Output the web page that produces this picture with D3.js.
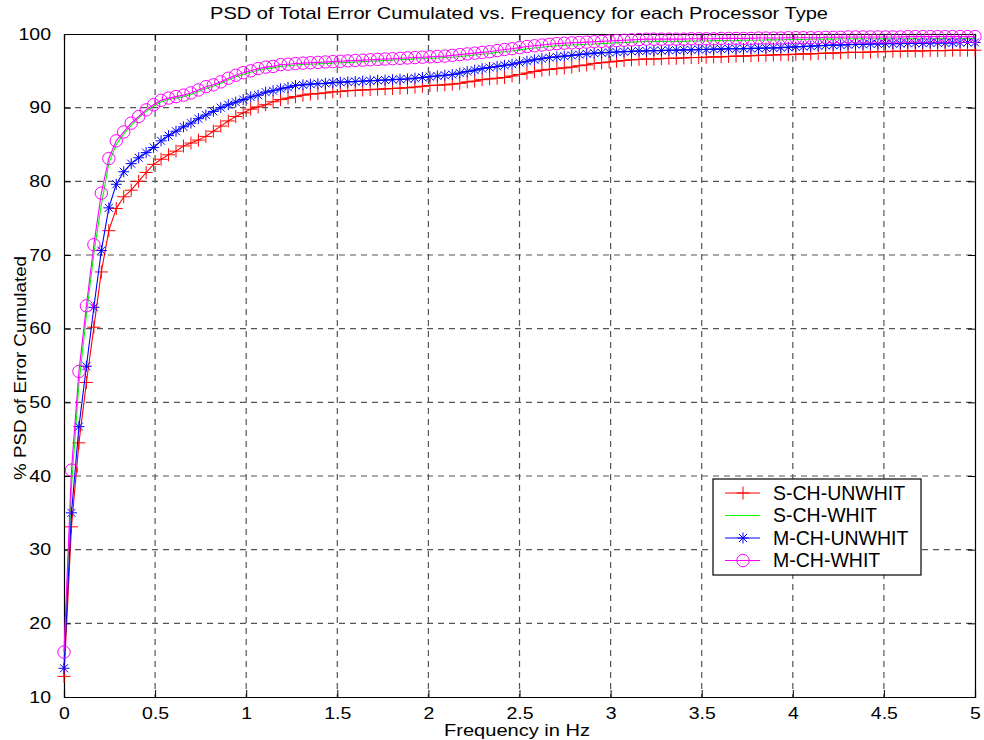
<!DOCTYPE html>
<html>
<head>
<meta charset="utf-8">
<script src="https://cdn.jsdelivr.net/npm/d3@7"></script>
<style>
  body { margin: 0; background: #fff; }
  svg text { font-family: "Liberation Sans", Arial, sans-serif; fill: #000; }
</style>
</head>
<body>
<svg width="984" height="740"></svg>
<script>
// frequency bins: 123 bins from 0 to 5 Hz
const freqCount = 123
const freqMax = 5

// % PSD of error cumulated
const sUnwhit = [12.8,33.1,44.5,52.7,60.2,67.7,73.3,76.3,77.9,78.8,80.0,81.2,82.3,83.0,83.6,84.1,84.8,85.2,85.6,86.1,
  86.8,87.5,88.2,88.8,89.3,89.8,90.1,90.4,90.8,91.1,91.3,91.5,91.7,91.85,91.9,92.0,92.15,92.2,92.3,92.35,
  92.4,92.45,92.5,92.55,92.6,92.65,92.7,92.8,92.9,93.0,93.05,93.1,93.2,93.3,93.5,93.6,93.8,93.9,94.0,94.1,
  94.3,94.5,94.7,94.9,95.1,95.2,95.3,95.4,95.5,95.7,95.8,96.0,96.1,96.2,96.3,96.4,96.5,96.55,96.6,96.6,
  96.65,96.7,96.7,96.75,96.8,96.8,96.85,96.9,96.9,96.95,97.0,97.0,97.05,97.1,97.1,97.15,97.2,97.2,97.25,97.3,
  97.3,97.35,97.4,97.4,97.45,97.5,97.5,97.5,97.55,97.6,97.6,97.65,97.65,97.7,97.7,97.7,97.75,97.75,97.75,97.8,
  97.8,97.8,97.8]

const sWhit = [15.0,38.5,52.5,61.8,70.2,76.8,82.4,85.0,86.4,87.6,88.6,89.5,90.2,90.8,91.1,91.3,91.5,91.8,92.2,92.6,
  92.9,93.3,93.8,94.2,94.5,94.8,95.1,95.3,95.4,95.6,95.7,95.8,95.85,95.9,95.95,96.0,96.05,96.1,96.15,96.2,
  96.25,96.3,96.35,96.4,96.45,96.5,96.55,96.6,96.65,96.7,96.75,96.8,96.85,96.95,97.05,97.15,97.25,97.35,97.5,97.6,
  97.7,97.85,98.0,98.1,98.2,98.3,98.4,98.45,98.5,98.55,98.6,98.65,98.7,98.75,98.8,98.85,98.9,98.95,99.0,99.0,
  99.0,99.0,99.0,99.0,99.05,99.05,99.05,99.1,99.1,99.1,99.1,99.15,99.15,99.15,99.2,99.2,99.2,99.25,99.25,99.25,
  99.3,99.3,99.3,99.3,99.35,99.35,99.35,99.35,99.35,99.35,99.35,99.35,99.35,99.35,99.35,99.35,99.35,99.35,99.35,99.35,
  99.35,99.35,99.35]

const mUnwhit = [13.9,35.0,46.7,54.9,62.9,70.6,76.4,79.6,81.3,82.4,83.2,83.9,84.6,85.5,86.2,86.8,87.4,87.9,88.5,89.0,
  89.5,90.0,90.4,90.75,91.1,91.45,91.7,92.1,92.3,92.55,92.75,93.0,93.1,93.2,93.25,93.3,93.4,93.45,93.5,93.55,
  93.6,93.65,93.7,93.75,93.8,93.85,93.9,94.0,94.1,94.2,94.3,94.4,94.5,94.7,94.9,95.1,95.3,95.45,95.6,95.75,
  95.9,96.1,96.3,96.5,96.65,96.8,96.9,97.0,97.1,97.2,97.3,97.4,97.45,97.5,97.55,97.6,97.65,97.7,97.7,97.75,
  97.75,97.8,97.8,97.85,97.85,97.9,97.9,97.95,97.95,98.0,98.0,98.0,98.05,98.05,98.1,98.1,98.15,98.2,98.25,98.3,
  98.35,98.4,98.45,98.5,98.5,98.55,98.6,98.6,98.65,98.65,98.7,98.7,98.7,98.75,98.75,98.75,98.8,98.8,98.8,98.8,
  98.85,98.85,98.85]

const mWhit = [16.1,40.8,54.2,63.1,71.4,78.4,83.1,85.5,86.7,87.9,88.8,89.7,90.4,91.0,91.3,91.5,91.7,92.0,92.4,92.85,
  93.1,93.5,94.0,94.4,94.75,95.0,95.3,95.5,95.6,95.85,95.9,96.0,96.05,96.1,96.15,96.2,96.25,96.3,96.35,96.4,
  96.45,96.5,96.55,96.6,96.65,96.7,96.75,96.8,96.85,96.9,96.95,97.0,97.1,97.2,97.3,97.4,97.5,97.6,97.75,97.9,
  98.0,98.15,98.3,98.4,98.5,98.6,98.7,98.75,98.8,98.85,98.9,98.95,99.0,99.05,99.1,99.15,99.2,99.25,99.3,99.3,
  99.3,99.3,99.3,99.3,99.35,99.35,99.35,99.35,99.4,99.4,99.4,99.4,99.4,99.45,99.45,99.45,99.45,99.5,99.5,99.5,
  99.5,99.5,99.55,99.55,99.55,99.6,99.6,99.6,99.6,99.6,99.6,99.6,99.6,99.65,99.65,99.65,99.65,99.65,99.65,99.65,
  99.65,99.65,99.65]

const seriesNames = ['S-CH-UNWHIT', 'S-CH-WHIT', 'M-CH-UNWHIT', 'M-CH-WHIT']
const xTicks = [0, 0.5, 1, 1.5, 2, 2.5, 3, 3.5, 4, 4.5, 5]
const yTicks = [10, 20, 30, 40, 50, 60, 70, 80, 90, 100]

const freqs = d3.range(freqCount).map(i => i * freqMax / (freqCount - 1))

const series = [
  { name: seriesNames[0], values: sUnwhit, color: '#ff0000', marker: 'plus' },
  { name: seriesNames[1], values: sWhit, color: '#00ff00', marker: 'none' },
  { name: seriesNames[2], values: mUnwhit, color: '#0000ff', marker: 'star' },
  { name: seriesNames[3], values: mWhit, color: '#ff00ff', marker: 'circle' }
]

const margin = { top: 34, right: 9, bottom: 43, left: 64 }
const width = 984 - margin.left - margin.right
const height = 740 - margin.top - margin.bottom

const svg = d3.select('svg')
const g = svg.append('g').attr('transform', `translate(${margin.left},${margin.top})`)

const x = d3.scaleLinear().domain([0, 5]).range([0, width])
const y = d3.scaleLinear().domain([10, 100]).range([height, 0])

// grid
const gridColor = '#555'
g.append('g').selectAll('line').data(xTicks.slice(1, -1)).join('line')
  .attr('x1', d => x(d)).attr('x2', d => x(d)).attr('y1', 0).attr('y2', height)
  .attr('stroke', gridColor).attr('stroke-width', 1.2).attr('stroke-dasharray', '6,5')
g.append('g').selectAll('line').data(yTicks.slice(1, -1)).join('line')
  .attr('y1', d => y(d)).attr('y2', d => y(d)).attr('x1', 0).attr('x2', width)
  .attr('stroke', gridColor).attr('stroke-width', 1.2).attr('stroke-dasharray', '6,5')

// axes, ticks pointing inside (box on)
g.append('g').attr('transform', `translate(0,${height})`)
  .call(d3.axisBottom(x).tickValues(xTicks).tickFormat(d3.format('')).tickSize(-7).tickPadding(10))
g.append('g')
  .call(d3.axisLeft(y).tickValues(yTicks).tickSize(-7).tickPadding(13))
g.append('g').call(d3.axisTop(x).tickValues(xTicks).tickFormat('').tickSize(-7))
g.append('g').attr('transform', `translate(${width},0)`)
  .call(d3.axisRight(y).tickValues(yTicks).tickFormat('').tickSize(-7))
g.selectAll('.domain').attr('stroke', '#000').attr('stroke-width', 1.2)
g.selectAll('.tick line').attr('stroke', '#000')
g.selectAll('.tick text')
  .attr('font-size', 16.5).attr('font-family', '"Liberation Sans", Arial, sans-serif')
  .each(function () {
    // the reference glyphs are a bit wider than Liberation Sans
    const w = this.getComputedTextLength()
    d3.select(this).attr('textLength', w * 1.18).attr('lengthAdjust', 'spacingAndGlyphs')
  })

// lines
const line = d3.line().x((d, i) => x(freqs[i])).y(d => y(d))

function drawMarker(sel, type, color) {
  if (type === 'plus') {
    sel.append('path').attr('d', 'M-6.5,0H6.5M0,-6.5V6.5')
      .attr('stroke', color).attr('stroke-width', 1).attr('fill', 'none')
  } else if (type === 'star') {
    sel.append('path').attr('d', 'M-5.5,0H5.5M0,-5.5V5.5M-4,-4L4,4M-4,4L4,-4')
      .attr('stroke', color).attr('stroke-width', 1).attr('fill', 'none')
  } else if (type === 'circle') {
    sel.append('circle').attr('r', 6.2)
      .attr('stroke', color).attr('stroke-width', 1).attr('fill', 'none')
  }
}

series.forEach(s => {
  const sg = g.append('g')
  sg.append('path').datum(s.values).attr('d', line)
    .attr('fill', 'none').attr('stroke', s.color).attr('stroke-width', 1.1)
  if (s.marker !== 'none') {
    sg.selectAll('g.m').data(s.values).join('g').attr('class', 'm')
      .attr('transform', (d, i) => `translate(${x(freqs[i])},${y(d)})`)
      .each(function () { drawMarker(d3.select(this), s.marker, s.color) })
  }
})

// title and labels
svg.append('text').attr('x', 519).attr('y', 19)
  .attr('text-anchor', 'middle').attr('font-size', 16.5)
  .attr('textLength', 618).attr('lengthAdjust', 'spacingAndGlyphs')
  .text('PSD of Total Error Cumulated vs. Frequency for each Processor Type')
svg.append('text').attr('x', 517).attr('y', 736)
  .attr('text-anchor', 'middle').attr('font-size', 16)
  .attr('textLength', 146).attr('lengthAdjust', 'spacingAndGlyphs')
  .text('Frequency in Hz')
svg.append('text').attr('transform', `translate(26,368) rotate(-90)`)
  .attr('text-anchor', 'middle').attr('font-size', 16.5)
  .attr('textLength', 224).attr('lengthAdjust', 'spacingAndGlyphs')
  .text('% PSD of Error Cumulated')

// legend
const legend = svg.append('g').attr('transform', 'translate(713,479)')
legend.append('rect').attr('width', 208).attr('height', 96)
  .attr('fill', '#fff').attr('stroke', '#000').attr('stroke-width', 1.2)
series.forEach((s, i) => {
  const row = legend.append('g').attr('transform', `translate(0,${14 + i * 22.5})`)
  row.append('line').attr('x1', 12).attr('x2', 47)
    .attr('stroke', s.color).attr('stroke-width', 1.1)
  drawMarker(row.append('g').attr('transform', 'translate(30,0)'), s.marker, s.color)
  row.append('text').attr('x', 60).attr('y', 6.5).attr('font-size', 19.5).text(s.name)
})
</script>
</body>
</html>
